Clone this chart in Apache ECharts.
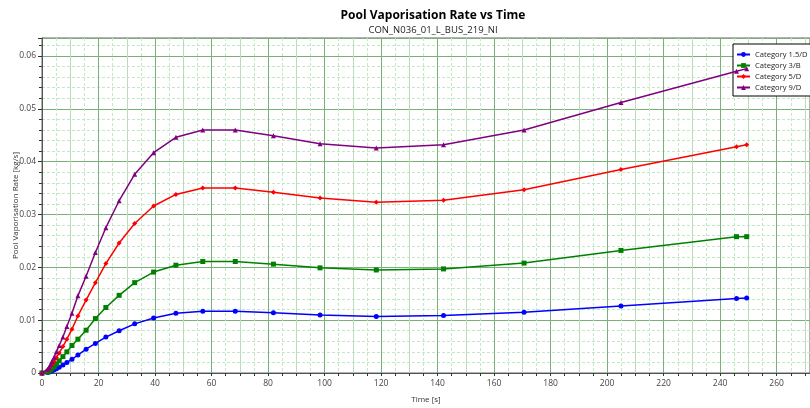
<!DOCTYPE html>
<html>
<head>
<meta charset="utf-8">
<script src="https://cdn.jsdelivr.net/npm/echarts@6/dist/echarts.min.js"></script>
<style>html,body{margin:0;padding:0;background:#fff}#c{width:810px;height:408px}</style>
</head>
<body>
<div id="c"></div>
<script>
const titleText = 'Pool Vaporisation Rate vs Time';
const subtitleText = 'CON_N036_01_L_BUS_219_NI';
const xName = 'Time [s]';
const yName = 'Pool Vaporisation Rate [kg/s]';
const seriesNames = ['Category 1.5/D', 'Category 3/B', 'Category 5/D', 'Category 9/D'];
const times = [0, 2.0, 2.5, 3.0, 3.5, 4.3, 5.1, 6.1, 7.4, 8.8, 10.6, 12.7, 15.6, 18.9, 22.6, 27.3, 32.8, 39.5, 47.4, 56.9, 68.4, 81.9, 98.4, 118.3, 142.1, 170.6, 204.9, 245.8, 249.4];
const cat15D = [0, 0.0001, 0.0002, 0.0003, 0.0004, 0.0006, 0.0008, 0.0011, 0.0015, 0.0020, 0.0026, 0.0034, 0.0045, 0.0056, 0.0068, 0.0080, 0.0093, 0.0104, 0.0113, 0.0117, 0.0117, 0.0114, 0.0110, 0.0107, 0.0109, 0.0115, 0.0127, 0.0141, 0.0142];
const cat3B  = [0, 0.0002, 0.0004, 0.0006, 0.0009, 0.0012, 0.0017, 0.0023, 0.0031, 0.0040, 0.0052, 0.0064, 0.0081, 0.0103, 0.0124, 0.0147, 0.0171, 0.0191, 0.0204, 0.0211, 0.0211, 0.0206, 0.0199, 0.0195, 0.0197, 0.0208, 0.0232, 0.0258, 0.0258];
const cat5D  = [0, 0.0005, 0.0008, 0.0012, 0.0016, 0.0022, 0.0029, 0.0038, 0.0050, 0.0064, 0.0083, 0.0108, 0.0138, 0.0171, 0.0207, 0.0246, 0.0283, 0.0316, 0.0338, 0.0350, 0.0350, 0.0342, 0.0331, 0.0323, 0.0327, 0.0347, 0.0385, 0.0428, 0.0432];
const cat9D  = [0, 0.0007, 0.0011, 0.0016, 0.0022, 0.0030, 0.0040, 0.0052, 0.0068, 0.0088, 0.0113, 0.0146, 0.0183, 0.0228, 0.0275, 0.0326, 0.0376, 0.0417, 0.0446, 0.0460, 0.0460, 0.0449, 0.0434, 0.0426, 0.0432, 0.0460, 0.0512, 0.0571, 0.0576];
const xTickLabels = [0, 20, 40, 60, 80, 100, 120, 140, 160, 180, 200, 220, 240, 260];

const colors = ['#0000ff', '#008000', '#ff0000', '#800080'];
const symbols = ['circle', 'rect', 'diamond', 'triangle'];
const allData = [cat15D, cat3B, cat5D, cat9D];

const chart = echarts.init(document.getElementById('c'), null, {renderer: 'canvas'});
const font = 'Open Sans, Noto Sans, sans-serif';
chart.setOption({
  animation: false,
  backgroundColor: '#ffffff',
  title: [
    {text: titleText, left: 428, top: 5, textAlign: 'center',
     textStyle: {fontFamily: font, fontSize: 12, fontWeight: 'bold', color: '#000'}},
    {text: subtitleText, left: 428, top: 20, textAlign: 'center',
     textStyle: {fontFamily: font, fontSize: 9.5, fontWeight: 'normal', color: '#222'}}
  ],
  legend: {
    orient: 'vertical', left: 733, top: 44,
    padding: [5, 3, 3, 3], itemGap: 0, itemWidth: 13, itemHeight: 6,
    backgroundColor: '#fff', borderColor: '#000', borderWidth: 1,
    textStyle: {fontFamily: font, fontSize: 7.6, color: '#222', lineHeight: 11},
    data: seriesNames
  },
  grid: {left: 42, right: 0, top: 38, bottom: 35, show: true, borderColor: '#666', borderWidth: 1,
         outerBoundsMode: 'none', containLabel: false},
  xAxis: {
    type: 'value', min: 0, max: 271.8, interval: 10,
    name: xName, nameLocation: 'middle', nameGap: 23, nameMoveOverlap: false,
    nameTextStyle: {fontFamily: font, fontSize: 8, color: '#333'},
    axisLine: {onZero: false, lineStyle: {color: '#555'}},
    axisTick: {show: true, length: 3, lineStyle: {color: '#333'}},
    minorTick: {show: true, splitNumber: 2, length: 3, lineStyle: {color: '#333'}},
    axisLabel: {fontFamily: font, fontSize: 8.5, color: '#444', margin: 6, showMaxLabel: false,
      formatter: v => (xTickLabels.indexOf(v) >= 0 ? String(v) : '')},
    splitLine: {show: true, lineStyle: {color: ['#78b078', '#b9ddb9'], width: 1}},
    minorSplitLine: {show: true, lineStyle: {color: '#c4e8c4', type: [3, 2], width: 1}}
  },
  yAxis: {
    type: 'value', min: 0, max: 0.0634, interval: 0.01,
    name: yName, nameLocation: 'middle', nameGap: 22, nameMoveOverlap: false,
    nameTextStyle: {fontFamily: font, fontSize: 8, color: '#333'},
    axisLine: {show: true, lineStyle: {color: '#555'}},
    axisTick: {show: true, length: 4, lineStyle: {color: '#333'}},
    minorTick: {show: true, splitNumber: 5, length: 3, lineStyle: {color: '#333'}},
    axisLabel: {fontFamily: font, fontSize: 8.5, color: '#444', margin: 6, showMaxLabel: false},
    splitLine: {show: true, lineStyle: {color: '#78b078', width: 1}},
    minorSplitLine: {show: true, lineStyle: {color: '#c4e8c4', type: [3, 2], width: 1}}
  },
  series: seriesNames.map((n, i) => ({
    name: n, type: 'line',
    data: times.map((t, k) => [t, allData[i][k]]),
    symbol: symbols[i], symbolSize: 5,
    showAllSymbol: true,
    lineStyle: {color: colors[i], width: 1.5},
    itemStyle: {color: colors[i]},
    z: 3 + i
  }))
});
</script>
</body>
</html>
